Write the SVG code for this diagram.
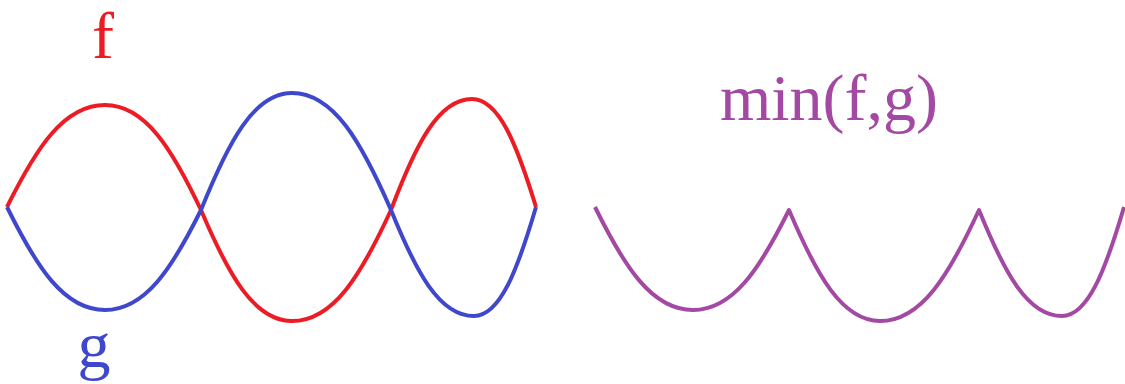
<svg xmlns="http://www.w3.org/2000/svg" width="1125" height="384" viewBox="0 0 1125 384">
  <style>
    .curve { fill: none; stroke-width: 4; stroke-linejoin: round; }
    .red { stroke: #ED1C24; }
    .blue { stroke: #3F48CC; }
    .purple { stroke: #A349A4; }
    .lbl { font-family: "Liberation Serif", "Times New Roman", serif; font-size: 66px; }
  </style>
  <rect width="1125" height="384" fill="#ffffff"/>
  <g id="curve-f">
    <path class="curve red" d="M7,207 C36.4,147.8 63.8,105 105,105 C145.3,105 172.2,149.1 201,210 C228.3,274.4 253.8,321 292,321 C333.6,321 361.3,274.4 391,210 C415.3,145.6 438,99 472,99 C498.9,99 516.8,144.4 536,207"/>
  </g>
  <g id="curve-g">
    <path class="curve blue" d="M7,207 C36.4,266.7 63.8,310 105,310 C145.3,310 172.2,268 201,210 C228.3,142.1 253.8,93 292,93 C333.6,93 361.3,142.1 391,210 C415.9,271.5 439.1,316 474,316 C500,316 517.4,270.2 536,207"/>
  </g>
  <g id="curve-min">
    <path class="curve purple" transform="translate(588,0)" d="M7,207 C36.4,266.7 63.8,310 105,310 C145.3,310 172.2,268 201,210 C228.3,274.4 253.8,321 292,321 C333.6,321 361.3,274.4 391,210 C415.9,271.5 439.1,316 474,316 C500,316 517.4,270.2 536,207"/>
  </g>
  <g id="label-f">
    <text class="lbl" x="103" y="58" text-anchor="middle" fill="#ED1C24">f</text>
  </g>
  <g id="label-g">
    <text class="lbl" x="94" y="367" text-anchor="middle" fill="#3F48CC">g</text>
  </g>
  <g id="label-min">
    <text class="lbl" x="829" y="120" text-anchor="middle" fill="#A349A4">min(f,g)</text>
  </g>
</svg>
